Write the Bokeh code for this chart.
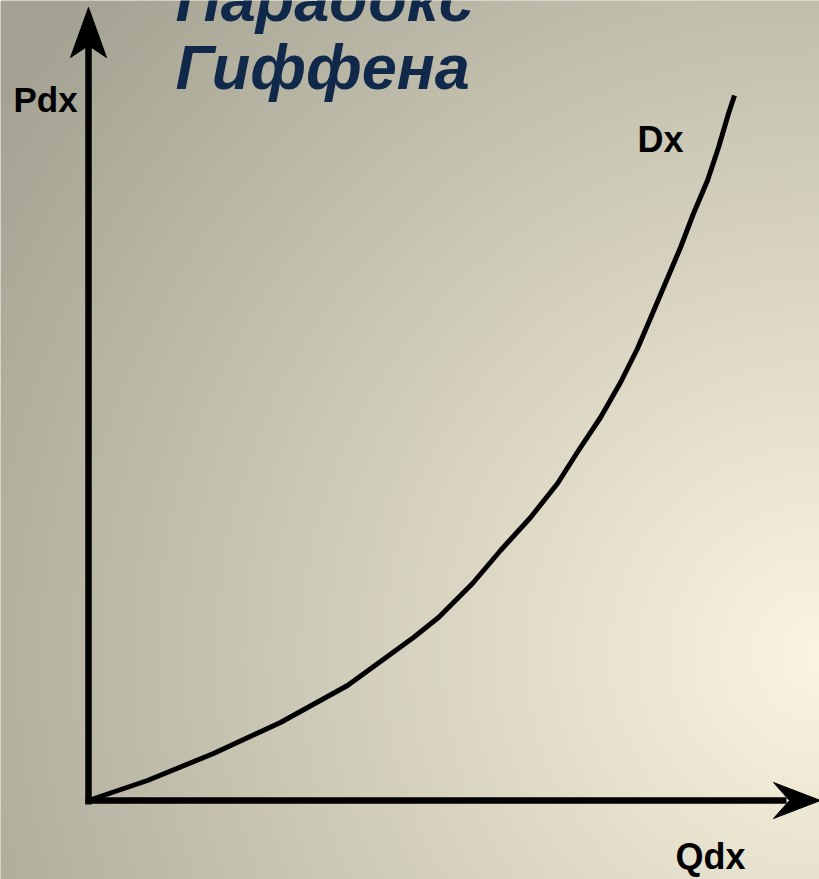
import numpy as np
from bokeh.plotting import figure
from bokeh.models import Range1d
from bokeh.core.properties import value
from bokeh.embed import file_html
from bokeh.resources import INLINE

# ---- data: demand curve Dx (quantity Q, price P), units measured from the origin ----
q_vals = [0, 59, 125, 192, 259, 325, 350, 384, 412, 442, 469, 490, 512, 532, 549,
          564, 578, 592, 605, 619, 630, 640, 646]
p_vals = [0, 20, 47, 78, 115, 163, 183, 217, 250, 283, 317, 350, 383, 418, 452,
          487, 520, 553, 587, 620, 653, 687, 705]

title_lines = ["Парадокс", "Гиффена"]
y_label = "Pdx"
x_label = "Qdx"
curve_label = "Dx"

# ---- layout (page px -> data: origin of axes at page (88, 800)) ----
W, H = 819, 879
OX, OY = 88, 800
x0 = -OX
y0 = OY - H

p = figure(width=W, height=H, x_range=Range1d(x0, x0 + W), y_range=Range1d(y0, y0 + H),
           output_backend="svg", toolbar_location=None, min_border=0,
           x_axis_location=None, y_axis_location=None, outline_line_color=None,
           background_fill_color="#CBC7B1", border_fill_color="#CBC7B1")
p.grid.visible = False

# ---- background radial gradient ----
gw, gh = 205, 220
cx, cy, R = 819.0, 655.0, 1000.0
light = np.array([250, 245, 224], dtype=float)
dark = np.array([163, 161, 145], dtype=float)
jj = np.arange(gw)
ii = np.arange(gh)
sx = (jj + 0.5) * W / gw
sy = H - (ii + 0.5) * H / gh
SX, SY = np.meshgrid(sx, sy)
t = np.clip(np.hypot(SX - cx, SY - cy) / R, 0, 1)
img = np.empty((gh, gw), dtype=np.uint32)
view = img.view(dtype=np.uint8).reshape((gh, gw, 4))
for k in range(3):
    view[:, :, k] = np.round(light[k] + (dark[k] - light[k]) * t).astype(np.uint8)
view[:, :, 3] = 255
p.image_rgba(image=[img], x=x0, y=y0, dw=W, dh=H)

# ---- axes with arrow heads ----
AW = 6.5
y_tip, x_tip = OY - 7, 820 - OX
head_len, head_half, notch = 50, 18, 12
p.segment(x0=[0, -3], y0=[-4, 0], x1=[0, x_tip - head_len + notch + 4], y1=[y_tip - head_len + notch + 4, 0],
          line_color="black", line_width=AW)
p.patch(x=[0, -head_half, 0, head_half],
        y=[y_tip, y_tip - head_len, y_tip - head_len + notch, y_tip - head_len],
        fill_color="black", line_color="black", line_width=1)
p.patch(x=[x_tip, x_tip - head_len + 3, x_tip - head_len + 3 + notch + 4, x_tip - head_len + 3],
        y=[0, head_half, 0, -head_half],
        fill_color="black", line_color="black", line_width=1)

# ---- demand curve ----
p.line(q_vals, p_vals, line_color="black", line_width=5, line_join="round")

# ---- labels ----
lab_font = value("Liberation Sans")
p.text(x=[13 - OX], y=[OY - 99], text=[y_label], text_font=lab_font, text_font_style="bold",
       text_font_size="35px", text_color="black", text_baseline="alphabetic")
p.text(x=[637 - OX], y=[OY - 139], text=[curve_label], text_font=lab_font, text_font_style="bold",
       text_font_size="36px", text_color="black", text_baseline="alphabetic")
p.text(x=[675 - OX], y=[OY - 856], text=[x_label], text_font=lab_font, text_font_style="bold",
       text_font_size="36px", text_color="black", text_baseline="alphabetic")

# ---- title ----
p.text(x=[175 - OX, 175 - OX], y=[OY + 2, OY - 66], text=title_lines, text_font=lab_font,
       text_font_style="bold italic", text_font_size="63px", text_color="#10284A",
       text_baseline="alphabetic")

open("out.html", "w").write(file_html(p, INLINE))
